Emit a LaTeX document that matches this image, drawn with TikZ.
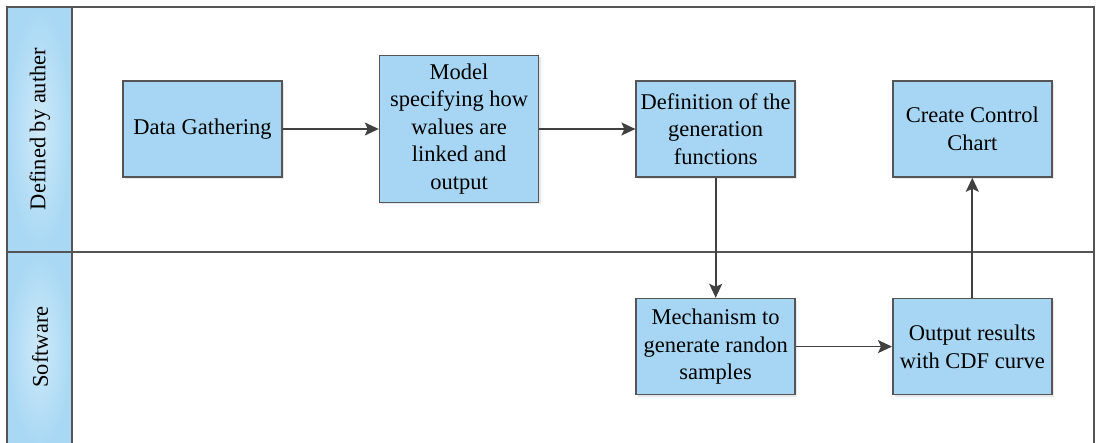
\documentclass[tikz,border=0pt]{standalone}
\usepackage{fontspec}
\setmainfont{Liberation Serif}
\usepackage{xcolor}
\usepackage{tikz}
\usetikzlibrary{arrows.meta, positioning, shadows}

\definecolor{laneblue}{RGB}{168,216,244}
\definecolor{boxblue}{RGB}{166,214,243}
\definecolor{frame}{RGB}{85,85,85}

\begin{document}
\begin{tikzpicture}[
        x=1pt, y=-1pt,
        font=\fontsize{22.5}{27.5}\selectfont,
        node distance=96pt and 96pt,
        box/.style={draw=frame, line width=1.6pt, align=center, fill=boxblue,
            minimum width=159pt, minimum height=96pt, inner sep=2pt,
            drop shadow={opacity=0.18, shadow xshift=2pt, shadow yshift=-2pt}},
        tall/.style={box, minimum height=147pt},
        lane/.style={draw=frame, line width=1.5pt, inner color=laneblue!55, outer color=laneblue},
        arr/.style={-{Stealth[length=14pt, width=13pt, inset=3pt]}, line width=1.7pt, draw=black!75}
    ]
        \useasboundingbox (0,0) rectangle (1096,443);

        % swimlanes
        \draw[frame, line width=1.5pt] (7,446) -- (7,7) -- (1094,7) -- (1094,446);
        \draw[frame, line width=1.5pt] (7,252) -- (1094,252);
        \path[lane] (7,7) rectangle (72,252);
        \path[lane] (7,252) rectangle (72,446);
        \node[rotate=90] (lauth) at (40,129) {Defined by auther};
        \node[rotate=90] (lsoft) at (40,347) {Software};

        % steps
        \node[box] (gather) at (202.5,129) {Data Gathering};
        \node[tall, right=of gather] (model) {Model\\specifying how\\walues are\\linked and\\output};
        \node[box, right=of model] (gendef) {Definition of the\\generation\\functions};
        \node[box, right=of gendef] (chart) {Create Control\\Chart};
        \node[box, below=120pt of gendef] (mech) {Mechanism to\\generate randon\\samples};
        \node[box, right=of mech] (result) {Output results\\with CDF curve};

        \draw[arr] (gather) -- (model);
        \draw[arr] (model) -- (gendef);
        \draw[arr] (gendef) -- (mech);
        \draw[arr] (mech) -- (result);
        \draw[arr] (result) -- (chart);
    \end{tikzpicture}
\end{document}
